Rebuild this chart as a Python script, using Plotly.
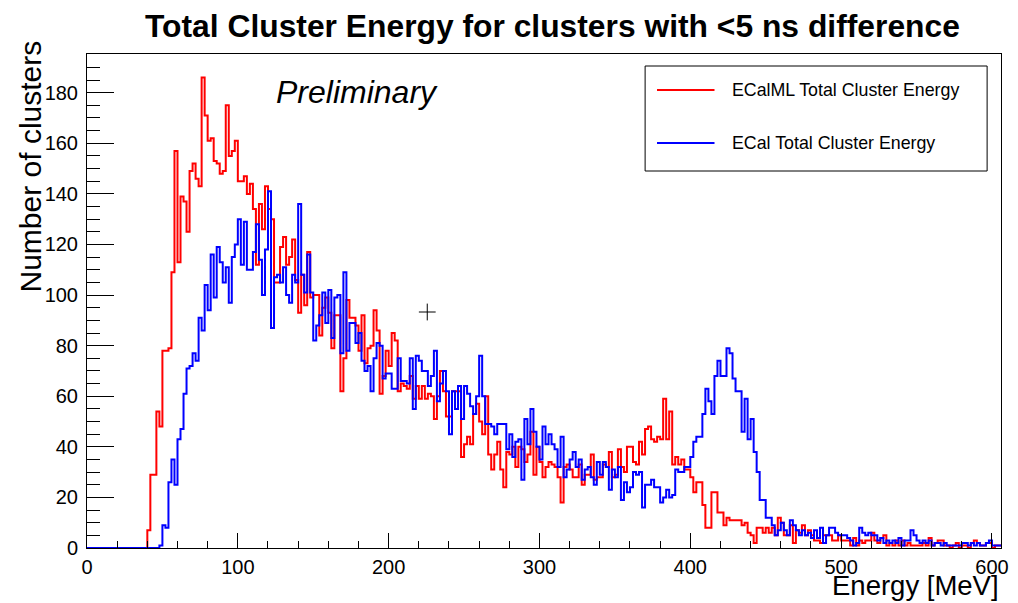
import plotly.graph_objects as go

# ---------------- data ----------------
bin_width = 2
x_min, x_max = 0, 606
n_bins = 303

red_label = "ECalML Total Cluster Energy"
blue_label = "ECal Total Cluster Energy"

red_start = 40
red_counts = [
    7, 29, 29, 54, 48, 78, 78, 79, 109, 157, 113, 139, 137, 125, 149, 152, 146, 143, 186, 171,
    161, 162, 153, 152, 148, 149, 175, 155, 157, 161, 145, 145, 147, 140, 144, 134, 112, 136, 126, 143,
    134, 130, 105, 105, 119, 123, 112, 115, 122, 106, 93, 108, 96, 117, 99, 100, 100, 84, 95, 99,
    93, 79, 92, 92, 62, 75, 98, 91, 91, 88, 78, 92, 73, 79, 80, 94, 86, 61, 68, 78,
    72, 85, 82, 62, 65, 64, 63, 68, 59, 64, 59, 64, 59, 61, 60, 51, 60, 70, 62, 52,
    52, 62, 62, 62, 36, 41, 44, 41, 53, 57, 50, 45, 60, 37, 31, 37, 42, 31, 24, 38,
    37, 40, 32, 40, 39, 34, 37, 46, 29, 40, 34, 28, 32, 34, 33, 32, 28, 18, 32, 33,
    31, 28, 28, 33, 25, 29, 29, 37, 27, 28, 28, 33, 32, 38, 28, 29, 39, 32, 30, 40,
    40, 34, 33, 42, 37, 47, 48, 43, 42, 44, 43, 59, 43, 54, 33, 36, 33, 35, 31, 31,
    28, 22, 26, 26, 17, 8, 8, 22, 22, 14, 14, 9, 12, 11, 11, 11, 11, 9, 10, 6,
    5, 2, 8, 8, 6, 8, 6, 8, 5, 12, 10, 5, 5, 9, 2, 7, 6, 9, 5, 7,
    5, 3, 3, 2, 5, 5, 5, 3, 3, 5, 3, 3, 3, 1, 4, 1, 3, 2, 3, 3,
    6, 3, 2, 4, 5, 1, 2, 1, 3, 1, 3, 1, 2, 1, 1, 1, 1, 2, 1, 4,
    1, 2, 3, 3, 1, 1, 0, 1, 2, 0, 1, 1, 0, 2, 3, 2, 1, 1, 2, 2,
    0, 1, 1,
]

blue_start = 48
blue_counts = [
    1, 9, 8, 26, 35, 25, 43, 47, 61, 71, 72, 77, 74, 91, 86, 104, 94, 116, 99, 119,
    113, 105, 111, 97, 115, 120, 130, 112, 129, 110, 110, 117, 128, 114, 100, 118, 141, 87, 107, 108,
    105, 111, 100, 97, 108, 105, 136, 108, 101, 116, 101, 82, 88, 92, 101, 89, 102, 83, 99, 100,
    77, 109, 78, 89, 89, 81, 85, 74, 70, 72, 62, 75, 81, 80, 67, 69, 69, 63, 63, 75,
    66, 66, 65, 75, 55, 76, 74, 70, 70, 64, 68, 78, 58, 65, 70, 62, 45, 62, 55, 64,
    51, 64, 61, 56, 53, 60, 76, 60, 49, 49, 48, 45, 49, 49, 49, 39, 45, 36, 42, 43,
    27, 51, 41, 55, 46, 40, 35, 48, 41, 45, 41, 39, 32, 44, 28, 31, 35, 38, 32, 35,
    27, 31, 32, 28, 25, 34, 29, 34, 32, 23, 31, 28, 32, 19, 26, 22, 24, 30, 29, 30,
    16, 25, 25, 27, 24, 24, 18, 20, 23, 20, 21, 31, 30, 30, 32, 32, 36, 42, 44, 44,
    53, 63, 58, 53, 68, 74, 68, 68, 79, 77, 67, 62, 62, 46, 59, 43, 51, 38, 30, 19,
    19, 12, 12, 9, 5, 7, 10, 7, 5, 11, 9, 7, 5, 7, 5, 6, 4, 7, 4, 8,
    2, 5, 8, 8, 6, 5, 5, 5, 4, 3, 1, 2, 8, 6, 5, 6, 5, 5, 3, 4,
    2, 3, 2, 3, 2, 4, 1, 3, 3, 7, 5, 3, 2, 3, 2, 3, 1, 2, 2, 1,
    2, 1, 1, 1, 1, 1, 2, 2, 1, 2, 1, 2, 1, 1, 2, 3, 1, 1, 1,
]

marker_x = [225.6]
marker_y = [93.3]

title_text = "Total Cluster Energy for clusters with <5 ns difference"
x_title = "Energy [MeV]"
y_title = "Number of clusters"
note_text = "Preliminary"


def full_hist(start, counts):
    vals = [0] * (start // bin_width) + list(counts)
    vals = vals[:n_bins] + [0] * max(0, n_bins - len(vals))
    return vals


edges = [x_min + i * bin_width for i in range(n_bins + 1)]
red_vals = full_hist(red_start, red_counts)
blue_vals = full_hist(blue_start, blue_counts)
y_max = 1.05 * max(max(red_vals), max(blue_vals))

# ---------------- layout helpers ----------------
W, H = 1018, 603
ML, MR, MT, MB = 87, 9, 54, 55
PW, PH = W - ML - MR, H - MT - MB


def px(x):
    return (x - ML) / PW


def py(y):
    return (H - MB - y) / PH


FONT = "Liberation Sans, Arial, Helvetica, sans-serif"
RED = "#ff0000"
BLUE = "#0000ff"

fig = go.Figure()
fig.add_trace(go.Scatter(x=edges, y=red_vals + [red_vals[-1]], mode="lines",
                         line=dict(color=RED, width=2, shape="hv"), showlegend=False,
                         name=red_label))
fig.add_trace(go.Scatter(x=edges, y=blue_vals + [blue_vals[-1]], mode="lines",
                         line=dict(color=BLUE, width=2, shape="hv"), showlegend=False,
                         name=blue_label))
fig.add_trace(go.Scatter(x=marker_x, y=marker_y, mode="markers",
                         marker=dict(symbol="cross-thin", size=12,
                                     line=dict(color="black", width=1)),
                         showlegend=False))

axis_common = dict(showgrid=False, zeroline=False, showline=True, linecolor="black",
                   linewidth=1, mirror=True, ticks="inside", tickcolor="black",
                   tickfont=dict(family=FONT, size=20, color="black"))

fig.update_xaxes(range=[x_min, x_max], dtick=100, tick0=0, ticklen=15, tickwidth=1,
                 minor=dict(dtick=20, ticklen=7, tickcolor="black", ticks="inside"),
                 ticklabelstandoff=1, **axis_common)
fig.update_yaxes(range=[0, y_max], dtick=20, tick0=0, ticklen=27, tickwidth=1,
                 minor=dict(dtick=5, ticklen=13, tickcolor="black", ticks="inside"),
                 ticklabelstandoff=4, **axis_common)

annotations = [
    dict(text="<b>" + title_text.replace("<", "&lt;") + "</b>", x=px(557), y=py(26),
         xref="paper", yref="paper", showarrow=False, xanchor="center", yanchor="middle",
         font=dict(family=FONT, size=31.8, color="black")),
    dict(text=x_title, x=px(836), y=py(585), xref="paper", yref="paper", showarrow=False,
         xanchor="left", yanchor="middle", font=dict(family=FONT, size=27.5, color="black")),
    dict(text=y_title, x=px(30), y=py(166), xref="paper", yref="paper", showarrow=False,
         textangle=-90, xanchor="center", yanchor="middle",
         font=dict(family=FONT, size=30, color="black")),
    dict(text="<i>" + note_text + "</i>", x=px(276), y=py(92), xref="paper", yref="paper",
         showarrow=False, xanchor="left", yanchor="middle",
         font=dict(family=FONT, size=32, color="black")),
    dict(text=red_label, x=px(736), y=py(90), xref="paper", yref="paper", showarrow=False,
         xanchor="left", yanchor="middle", font=dict(family=FONT, size=17.8, color="black")),
    dict(text=blue_label, x=px(736), y=py(143), xref="paper", yref="paper", showarrow=False,
         xanchor="left", yanchor="middle", font=dict(family=FONT, size=17.8, color="black")),
]

shapes = [
    dict(type="rect", xref="paper", yref="paper", x0=px(650), x1=px(995), y0=py(171), y1=py(66),
         line=dict(color="black", width=1), fillcolor="white", layer="above"),
    dict(type="line", xref="paper", yref="paper", x0=px(662), x1=px(720), y0=py(90), y1=py(90),
         line=dict(color=RED, width=2)),
    dict(type="line", xref="paper", yref="paper", x0=px(662), x1=px(720), y0=py(143), y1=py(143),
         line=dict(color=BLUE, width=2)),
]

fig.update_layout(width=W, height=H, autosize=False,
                  margin=dict(l=ML, r=MR, t=MT, b=MB, pad=0),
                  plot_bgcolor="white", paper_bgcolor="white",
                  annotations=annotations, shapes=shapes, showlegend=False)

fig.write_html("out.html")
